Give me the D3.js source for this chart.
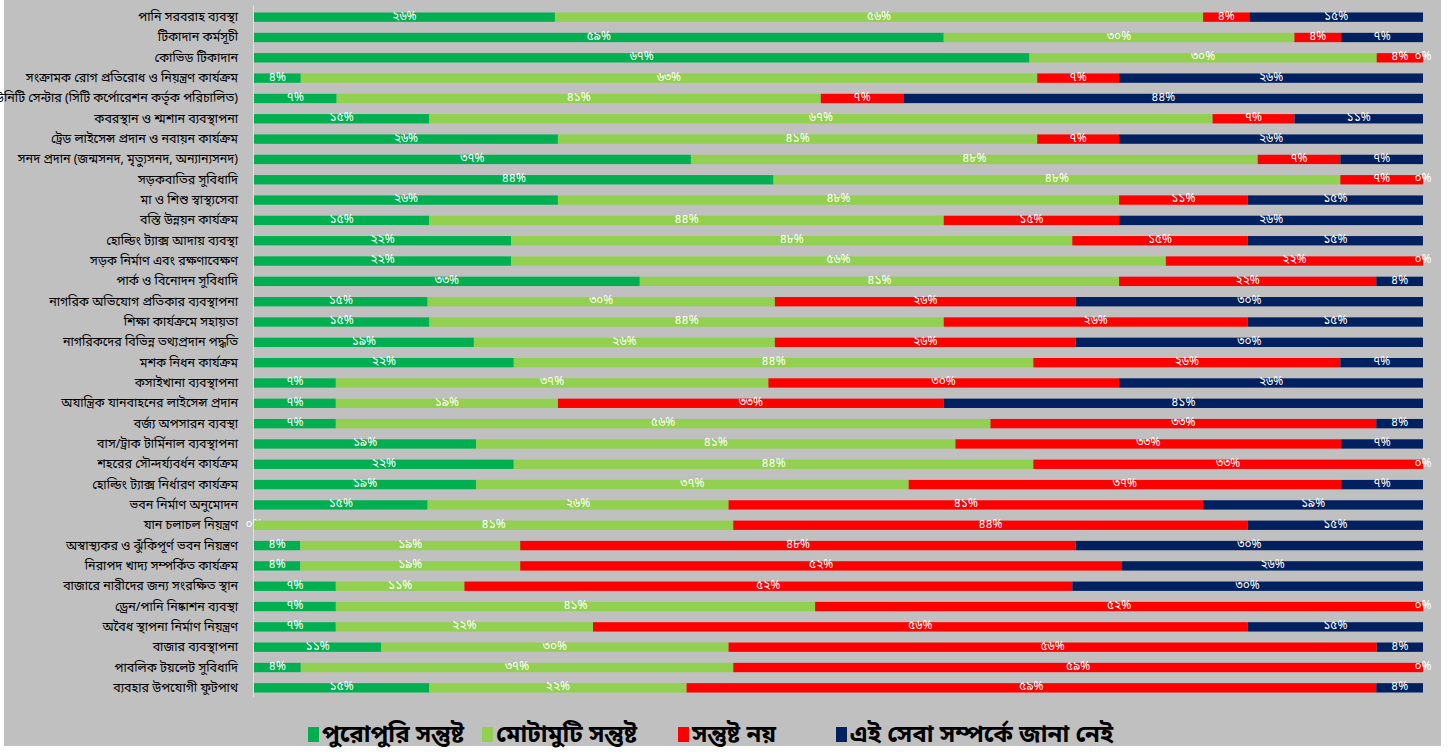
<!DOCTYPE html>
<html>
<head>
<meta charset="utf-8">
<script src="https://cdn.jsdelivr.net/npm/d3@7"></script>
<style>
  body { margin: 0; background: #fff; }
  svg { display: block; }
  .cat text { font-family: "Noto Sans Bengali", "Noto Sans", "FreeSerif", sans-serif; font-size: 12.5px; fill: #000; }
  .pct { font-family: "Noto Sans Bengali", "Noto Sans", "FreeSerif", sans-serif; font-size: 12px; fill: #fff; }
  .legend text { font-family: "Noto Sans Bengali", "Noto Sans", "FreeSerif", sans-serif; font-size: 24px; font-weight: bold; fill: #000; }
</style>
</head>
<body>
<svg class="chart"></svg>
<script>
// services, top to bottom
let services = [
  'পানি সরবরাহ ব্যবস্থা',
  'টিকাদান কর্মসূচী',
  'কোভিড টিকাদান',
  'সংক্রামক রোগ প্রতিরোধ ও নিয়ন্ত্রণ কার্যক্রম',
  'কমিউনিটি সেন্টার (সিটি কর্পোরেশন কর্তৃক পরিচালিত)',
  'কবরস্থান ও শ্মশান ব্যবস্থাপনা',
  'ট্রেড লাইসেন্স প্রদান ও নবায়ন কার্যক্রম',
  'সনদ প্রদান (জন্মসনদ, মৃত্যুসনদ, অন্যান্যসনদ)',
  'সড়কবাতির সুবিধাদি',
  'মা ও শিশু স্বাস্থ্যসেবা',
  'বস্তি উন্নয়ন কার্যক্রম',
  'হোল্ডিং ট্যাক্স আদায় ব্যবস্থা',
  'সড়ক নির্মাণ এবং রক্ষণাবেক্ষণ',
  'পার্ক ও বিনোদন সুবিধাদি',
  'নাগরিক অভিযোগ প্রতিকার ব্যবস্থাপনা',
  'শিক্ষা কার্যক্রমে সহায়তা',
  'নাগরিকদের বিভিন্ন তথ্যপ্রদান পদ্ধতি',
  'মশক নিধন কার্যক্রম',
  'কসাইখানা ব্যবস্থাপনা',
  'অযান্ত্রিক যানবাহনের লাইসেন্স প্রদান',
  'বর্জ্য অপসারন ব্যবস্থা',
  'বাস/ট্রাক টার্মিনাল ব্যবস্থাপনা',
  'শহরের সৌন্দর্য্যবর্ধন কার্যক্রম',
  'হোল্ডিং ট্যাক্স নির্ধারণ কার্যক্রম',
  'ভবন নির্মাণ অনুমোদন',
  'যান চলাচল নিয়ন্ত্রণ',
  'অস্বাস্থ্যকর ও ঝুঁকিপূর্ণ ভবন নিয়ন্ত্রণ',
  'নিরাপদ খাদ্য সম্পর্কিত কার্যক্রম',
  'বাজারে নারীদের জন্য সংরক্ষিত স্থান',
  'ড্রেন/পানি নিষ্কাশন ব্যবস্থা',
  'অবৈধ স্থাপনা নির্মাণ নিয়ন্ত্রণ',
  'বাজার ব্যবস্থাপনা',
  'পাবলিক টয়লেট সুবিধাদি',
  'ব্যবহার উপযোগী ফুটপাথ'
];

// percent per service, same order as services
let fullySatisfied = [26, 59, 67, 4, 7, 15, 26, 37, 44, 26, 15, 22, 22, 33, 15, 15, 19, 22, 7, 7, 7, 19, 22, 19, 15, 0, 4, 4, 7, 7, 7, 11, 4, 15];
let fairlySatisfied = [56, 30, 30, 63, 41, 67, 41, 48, 48, 48, 44, 48, 56, 41, 30, 44, 26, 44, 37, 19, 56, 41, 44, 37, 26, 41, 19, 19, 11, 41, 22, 30, 37, 22];
let notSatisfied = [4, 4, 4, 7, 7, 7, 7, 7, 7, 11, 15, 15, 22, 22, 26, 26, 26, 26, 30, 33, 33, 33, 33, 37, 41, 44, 48, 52, 52, 52, 56, 56, 59, 59];
let notAware = [15, 7, 0, 26, 44, 11, 26, 7, 0, 15, 26, 15, 0, 4, 30, 15, 30, 7, 26, 41, 4, 7, 0, 7, 19, 15, 30, 26, 30, 0, 15, 4, 0, 4];

let seriesNames = ['পুরোপুরি সন্তুষ্ট', 'মোটামুটি সন্তুষ্ট', 'সন্তুষ্ট নয়', 'এই সেবা সম্পর্কে জানা নেই'];
let seriesKeys = ['full', 'fair', 'not', 'unaware'];
let seriesColors = ['#00b050', '#92d050', '#ff0000', '#002060'];

let W = 1450, H = 753;
let margin = {top: 7, right: 27, bottom: 55, left: 254};

let bnDigits = '০১২৩৪৫৬৭৮৯';
let toBangla = (n) => String(n).replace(/[0-9]/g, (c) => bnDigits[+c]);

let rows = services.map((s, i) => {
  return {
    service: s,
    full: fullySatisfied[i],
    fair: fairlySatisfied[i],
    not: notSatisfied[i],
    unaware: notAware[i]
  };
});

let svg = d3.select('.chart')
  .attr('width', W)
  .attr('height', H);

// grey plot background
svg.append('rect')
  .attr('x', 4)
  .attr('y', 0)
  .attr('width', 1437)
  .attr('height', 746)
  .attr('fill', '#c0c0c0');

let xScale = d3.scaleLinear()
  .domain([0, 1])
  .range([margin.left, W - margin.right]);

let yScale = d3.scaleBand()
  .domain(services)
  .range([margin.top, H - margin.bottom])
  .paddingInner(0.54)
  .paddingOuter(0.27);

let color = d3.scaleOrdinal().domain(seriesKeys).range(seriesColors);

let stacked = d3.stack()
  .keys(seriesKeys)
  .offset(d3.stackOffsetExpand)(rows);

// category axis
let yAxis = svg.append('g')
  .attr('class', 'cat')
  .attr('transform', 'translate(' + margin.left + ',0)')
  .call(d3.axisLeft(yScale).tickSize(0).tickPadding(16));
yAxis.select('.domain').remove();

svg.append('line')
  .attr('x1', margin.left - 0.5)
  .attr('x2', margin.left - 0.5)
  .attr('y1', 5)
  .attr('y2', 697)
  .attr('stroke', '#e0e0e0')
  .attr('stroke-width', 1);

let groups = svg.selectAll('.series')
  .data(stacked)
  .enter()
  .append('g')
  .attr('class', 'series')
  .attr('fill', (d) => color(d.key));

groups.selectAll('rect')
  .data((d) => d)
  .enter()
  .append('rect')
  .attr('x', (d) => xScale(d[0]))
  .attr('y', (d) => yScale(d.data.service))
  .attr('width', (d) => xScale(d[1]) - xScale(d[0]))
  .attr('height', yScale.bandwidth());

// percent labels in the middle of each segment
groups.each(function (s) {
  d3.select(this).selectAll('.pct')
    .data(s)
    .enter()
    .append('text')
    .attr('class', 'pct')
    .attr('x', (d) => (xScale(d[0]) + xScale(d[1])) / 2)
    .attr('y', (d) => yScale(d.data.service) + yScale.bandwidth() / 2)
    .attr('dy', '0.2em')
    .attr('text-anchor', 'middle')
    .text((d) => toBangla(d.data[s.key]) + '%');
});

// legend
let legendX = [308, 482, 678, 836];
let legend = svg.append('g')
  .attr('class', 'legend');

let items = legend.selectAll('g')
  .data(seriesKeys)
  .enter()
  .append('g')
  .attr('transform', (d, i) => 'translate(' + legendX[i] + ',734)');

items.append('rect')
  .attr('x', 0)
  .attr('y', -7)
  .attr('width', 11)
  .attr('height', 15)
  .attr('fill', (d) => color(d));

items.append('text')
  .attr('x', 14)
  .attr('y', 0)
  .attr('dy', '0.35em')
  .text((d, i) => seriesNames[i]);
</script>
</body>
</html>
